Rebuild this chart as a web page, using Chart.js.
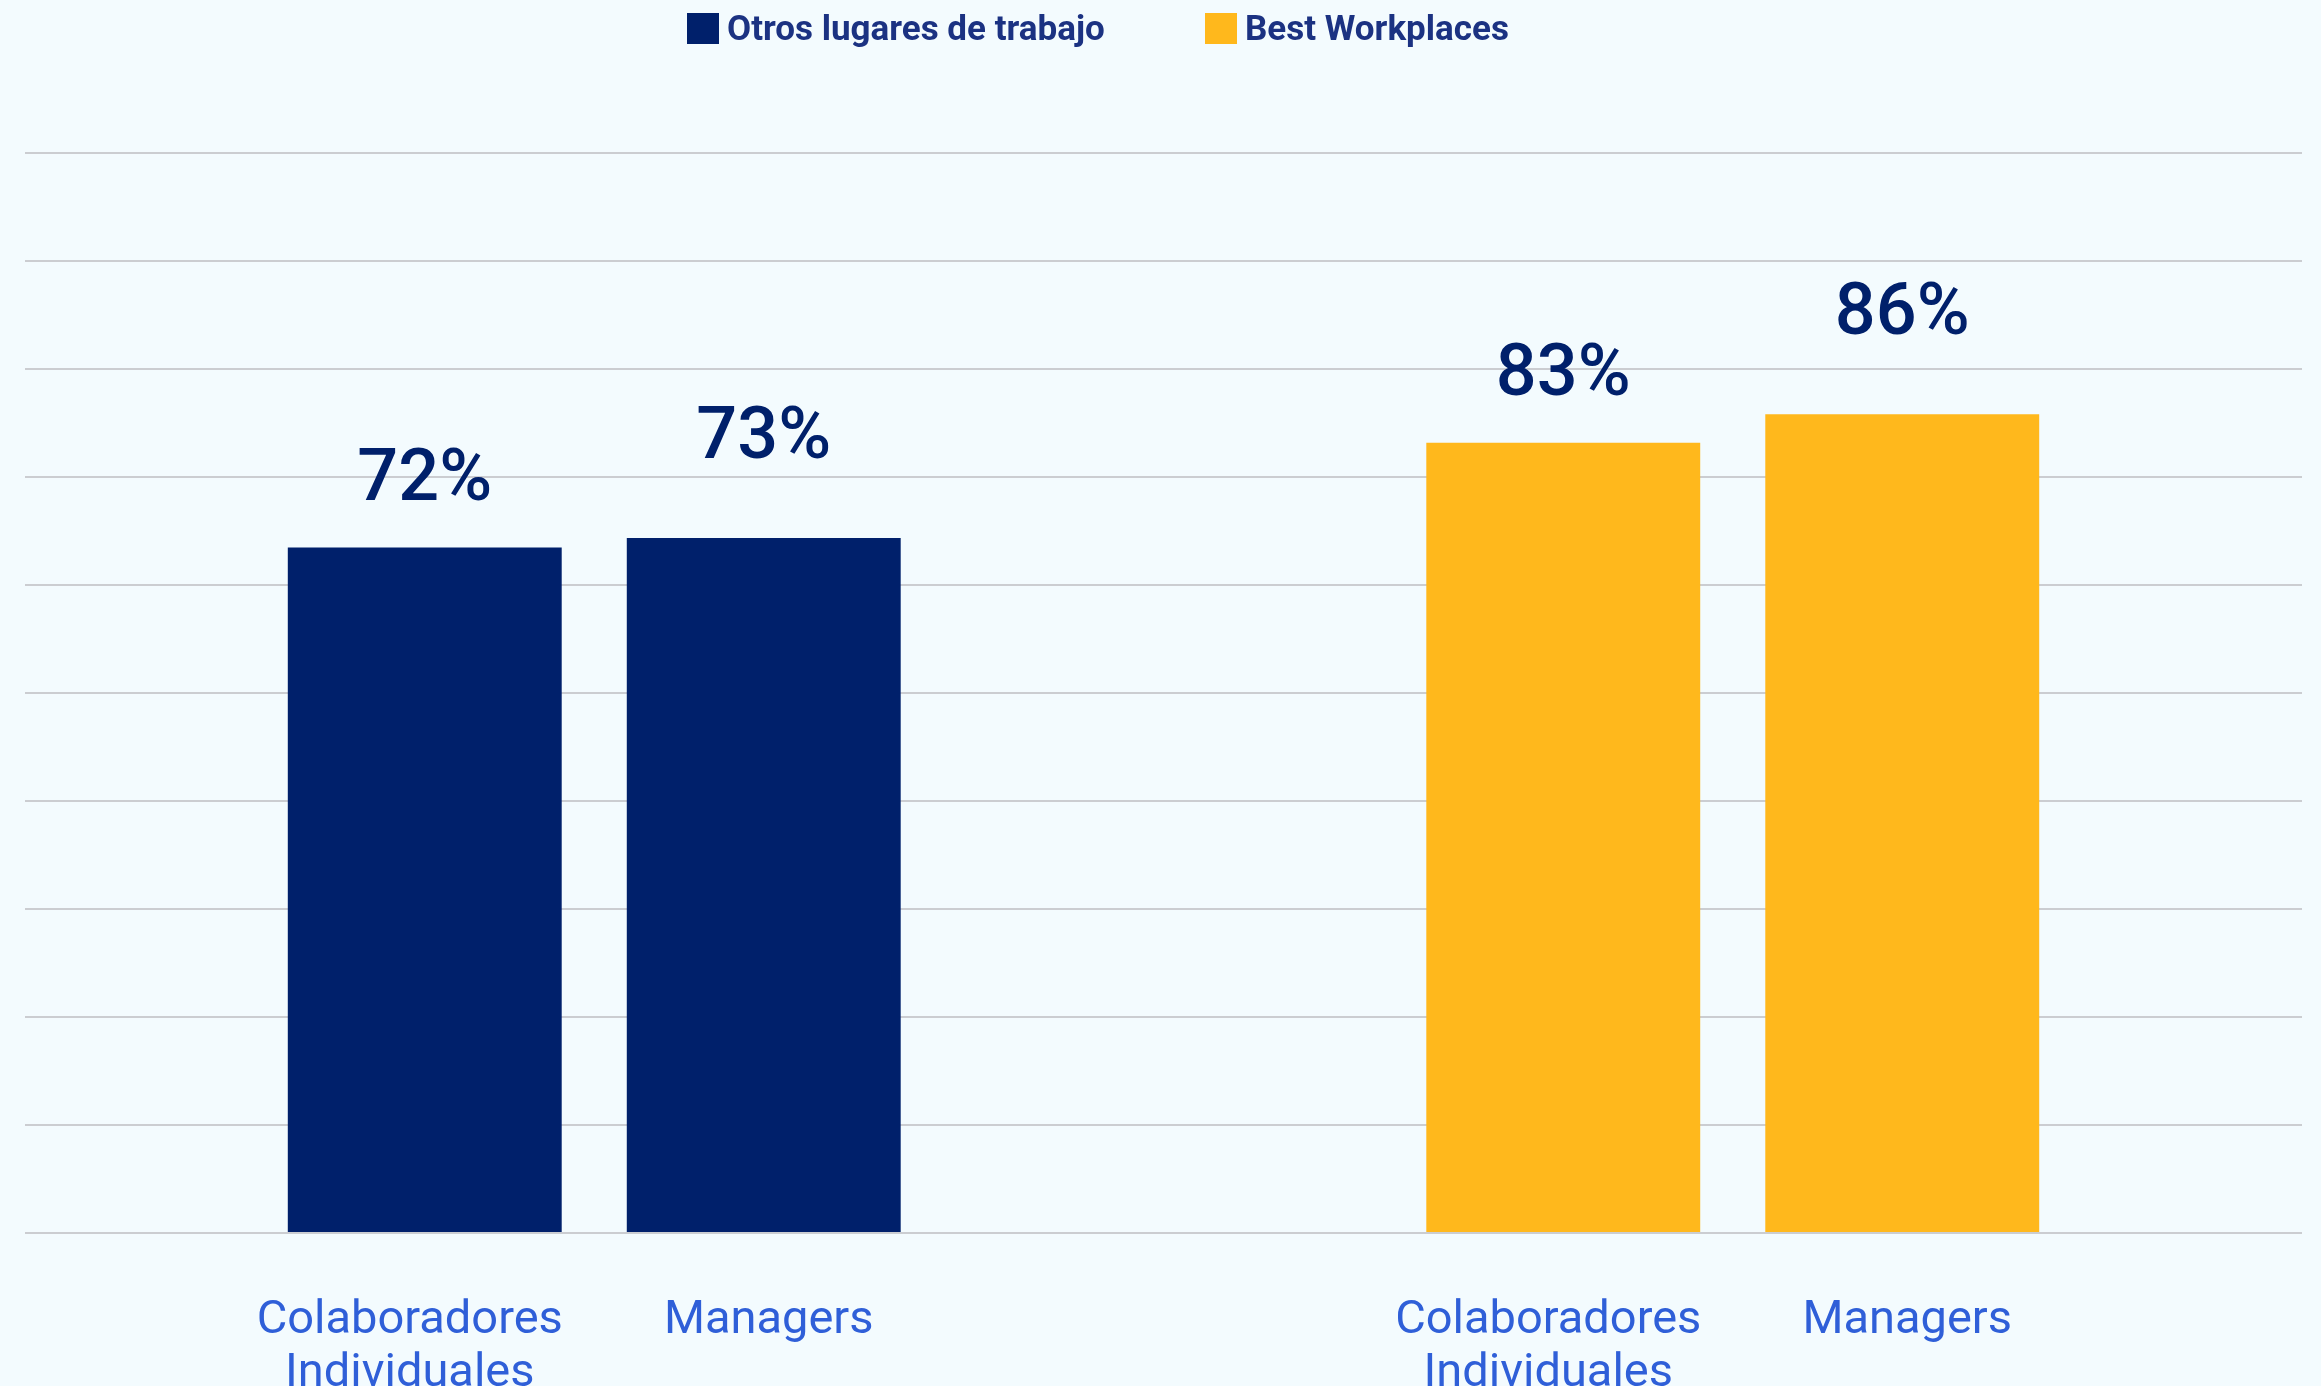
<!DOCTYPE html>
<html>
<head>
<meta charset="utf-8">
<script src="https://cdn.jsdelivr.net/npm/chart.js@4.4.1/dist/chart.umd.min.js"></script>
<style>
html, body { margin: 0; padding: 0; background: #f3fbfe; }
#wrap { position: relative; width: 2321px; height: 1386px; overflow: hidden; background: #f3fbfe; }
#c { position: absolute; left: 0; top: 0; }
#legend { position: absolute; top: 0; left: 0; width: 2321px; height: 60px; font-family: Roboto, sans-serif; font-weight: 700; font-size: 35px; color: #1b3282; }
.item { position: absolute; top: 13px; height: 31px; display: flex; align-items: center; white-space: nowrap; }
.box { width: 32px; height: 31px; margin-right: 8px; flex: none; }
</style>
</head>
<body>
<div id="wrap">
  <canvas id="c" width="2321" height="1386"></canvas>
  <div id="legend"></div>
</div>
<script>
// ---- data ----
const groups = ['Otros lugares de trabajo', 'Best Workplaces'];
const seriesNames = ['Colaboradores Individuales', 'Managers'];
const seriesLines = [['Colaboradores', 'Individuales'], ['Managers']];
const colaboradores = [72, 83];
const managers = [73, 86];

// ---- style ----
const groupColors = ['#00206b', '#ffb81c'];
const legendLeft = [687, 1205];
const valueGap = [48, 80];
const labelShift = [-15, 5];

// legend (HTML)
const legend = document.getElementById('legend');
groups.forEach((g, i) => {
  const it = document.createElement('div');
  it.className = 'item';
  it.style.left = legendLeft[i] + 'px';
  const b = document.createElement('span');
  b.className = 'box';
  b.style.background = groupColors[i];
  const t = document.createElement('span');
  t.textContent = g;
  it.appendChild(b); it.appendChild(t);
  legend.appendChild(it);
});

const labelsPlugin = {
  id: 'customLabels',
  beforeDraw(chart) {
    const ctx = chart.ctx;
    ctx.save();
    ctx.fillStyle = '#f3fbfe';
    ctx.fillRect(0, 0, chart.width, chart.height);
    ctx.restore();
  },
  afterDatasetsDraw(chart) {
    const ctx = chart.ctx;
    chart.data.datasets.forEach((ds, di) => {
      const meta = chart.getDatasetMeta(di);
      meta.data.forEach((bar, i) => {
        ctx.save();
        ctx.textAlign = 'center';
        ctx.textBaseline = 'alphabetic';
        ctx.font = '500 72px Roboto';
        ctx.fillStyle = '#00206b';
        ctx.fillText(ds.data[i] + '%', bar.x, bar.y - valueGap[di]);
        ctx.font = '400 47px Roboto';
        ctx.fillStyle = '#2f5fd8';
        seriesLines[di].forEach((line, li) => {
          ctx.fillText(line, bar.x + labelShift[di], chart.chartArea.bottom + 100 + li * 53);
        });
        ctx.restore();
      });
    });
  }
};

new Chart(document.getElementById('c'), {
  type: 'bar',
  data: {
    labels: groups,
    datasets: [
      { label: seriesNames[0], data: colaboradores, backgroundColor: groupColors, categoryPercentage: 0.5955, barPercentage: 0.808 },
      { label: seriesNames[1], data: managers, backgroundColor: groupColors, categoryPercentage: 0.5955, barPercentage: 0.808 }
    ]
  },
  options: {
    responsive: false,
    animation: false,
    layout: { padding: { left: 25, right: 19, top: 152.5, bottom: 153 } },
    plugins: { legend: { display: false }, tooltip: { enabled: false } },
    scales: {
      x: {
        grid: { display: false, drawTicks: false },
        border: { display: false },
        ticks: { display: false }
      },
      y: {
        min: 0,
        max: 113.5,
        ticks: { display: false, count: 11 },
        grid: { color: '#cbcdd1', lineWidth: 2, drawTicks: false },
        border: { display: false }
      }
    }
  },
  plugins: [labelsPlugin]
});
</script>
</body>
</html>
